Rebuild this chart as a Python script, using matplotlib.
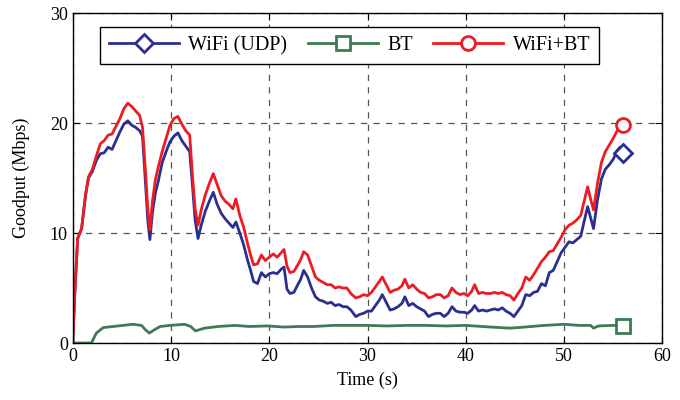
import matplotlib
matplotlib.use("Agg")
from matplotlib import pyplot as plt

# time axis shared by the WiFi and WiFi+BT traces (s)
t = [0, 0.2, 0.5, 0.9, 1.3, 1.6, 2.0, 2.4, 2.8, 3.2,
     3.6, 4.0, 4.4, 4.8, 5.2, 5.6, 6.0, 6.4, 6.8, 7.1,
     7.4, 7.65, 7.85, 8.1, 8.4, 8.7, 9.1, 9.5, 9.9, 10.3,
     10.7, 11.1, 11.5, 11.9, 12.2, 12.45, 12.75, 13.1, 13.5, 13.9,
     14.3, 14.7, 15.1, 15.5, 15.9, 16.3, 16.6, 17.0, 17.4, 17.8,
     18.1, 18.4, 18.8, 19.2, 19.6, 20.0, 20.4, 20.8, 21.2, 21.5,
     21.8, 22.1, 22.5, 22.9, 23.2, 23.5, 23.9, 24.3, 24.7, 25.1,
     25.5, 25.9, 26.3, 26.7, 27.1, 27.5, 27.9, 28.3, 28.8, 29.2,
     29.6, 30.0, 30.4, 30.8, 31.2, 31.5, 31.9, 32.3, 32.7, 33.1,
     33.5, 33.8, 34.2, 34.6, 35.0, 35.4, 35.8, 36.2, 36.6, 37.0,
     37.4, 37.8, 38.2, 38.6, 39.0, 39.4, 39.8, 40.2, 40.6, 40.9,
     41.3, 41.7, 42.1, 42.5, 42.9, 43.3, 43.7, 44.1, 44.5, 44.9,
     45.3, 45.7, 46.1, 46.5, 46.9, 47.3, 47.7, 48.1, 48.5, 48.9,
     49.3, 49.7, 50.1, 50.5, 50.9, 51.3, 51.7, 52.0, 52.4, 52.7,
     53.0, 53.4, 53.8, 54.2, 54.6, 55.0, 55.4, 55.7, 56.0]

wifi = [0, 4.4, 9.5, 10.4, 13.4, 15.0, 15.6, 16.6, 17.2, 17.3,
        17.8, 17.6, 18.4, 19.2, 19.9, 20.2, 19.8, 19.6, 19.3, 18.8,
        14.6, 11.0, 9.4, 11.8, 13.6, 14.7, 16.4, 17.4, 18.3, 18.8,
        19.1, 18.4, 17.9, 17.4, 14.1, 11.2, 9.5, 10.8, 12.0, 12.9,
        13.7, 12.6, 11.8, 11.3, 10.9, 10.5, 11.0, 10.0, 8.9, 7.5,
        6.6, 5.6, 5.4, 6.4, 6.0, 6.3, 6.4, 6.3, 6.7, 6.9,
        4.9, 4.5, 4.6, 5.3, 5.8, 6.6, 6.0, 5.0, 4.2, 3.9,
        3.8, 3.6, 3.7, 3.4, 3.5, 3.3, 3.3, 3.0, 2.4, 2.6,
        2.7, 2.9, 2.9, 3.4, 3.9, 4.4, 3.7, 3.0, 3.1, 3.3,
        3.6, 4.2, 3.4, 3.6, 3.3, 3.1, 2.9, 2.4, 2.6, 2.7,
        2.7, 2.4, 2.7, 3.3, 2.9, 2.8, 2.8, 2.7, 3.0, 3.4,
        2.9, 3.0, 2.9, 3.0, 3.1, 3.0, 3.2, 2.9, 2.7, 2.4,
        2.9, 3.4, 4.4, 4.3, 4.6, 4.7, 5.4, 5.2, 6.4, 6.6,
        7.4, 8.2, 8.7, 9.2, 9.1, 9.4, 9.7, 10.9, 12.4, 11.4,
        10.4, 13.0, 14.9, 15.8, 16.2, 16.7, 17.5, 17.8, 17.3]

combo = [0, 4.4, 9.5, 10.4, 13.5, 15.1, 15.8, 17.0, 18.1, 18.4,
         18.9, 19.0, 19.7, 20.4, 21.3, 21.8, 21.5, 21.1, 20.7, 19.6,
         15.6, 12.0, 10.3, 12.8, 14.8, 16.0, 17.4, 18.6, 19.8, 20.4,
         20.6, 19.9, 19.3, 18.9, 15.0, 12.2, 10.7, 12.2, 13.5, 14.5,
         15.4, 14.4, 13.4, 12.9, 12.6, 12.2, 13.1, 11.6, 10.5, 9.0,
         8.0, 7.1, 7.2, 8.0, 7.5, 7.8, 8.1, 7.8, 8.2, 8.5,
         7.0, 6.4, 6.5, 7.1, 7.6, 8.3, 8.0, 7.0, 6.0, 5.7,
         5.5, 5.3, 5.3, 5.0, 5.1, 5.0, 5.0, 4.5, 4.1, 4.2,
         4.4, 4.3, 4.6, 5.1, 5.6, 6.0, 5.3, 4.6, 4.8, 4.9,
         5.2, 5.8, 5.0, 5.3, 4.9, 4.6, 4.5, 4.1, 4.2, 4.4,
         4.4, 4.1, 4.3, 5.0, 4.6, 4.4, 4.5, 4.3, 4.7, 5.3,
         4.5, 4.6, 4.5, 4.5, 4.6, 4.5, 4.6, 4.4, 4.3, 3.9,
         4.5, 5.0, 6.0, 5.7, 6.2, 6.8, 7.4, 7.8, 8.3, 8.4,
         9.0, 9.6, 10.3, 10.7, 10.9, 11.2, 11.6, 12.7, 14.2, 13.1,
         12.1, 14.5, 16.4, 17.4, 18.0, 18.6, 19.3, 19.6, 19.8]

t_bt = [0, 1.9, 2.4, 3.1, 4.1, 5.1, 6.1, 7.0, 7.4, 7.8,
        8.3, 8.9, 9.9, 11.4, 12.0, 12.5, 13.4, 14.8, 16.5, 18.0,
        19.8, 21.5, 23.0, 24.5, 26.5, 28.0, 30.0, 32.0, 34.0, 36.0,
        38.0, 40.0, 42.5, 44.5, 46.0, 48.0, 50.0, 51.5, 52.7, 53.0,
        53.5, 55.0, 56.0]
bt = [0, 0, 0.9, 1.4, 1.5, 1.6, 1.7, 1.6, 1.2, 0.9,
      1.2, 1.5, 1.6, 1.7, 1.5, 1.1, 1.35, 1.5, 1.6, 1.5,
      1.55, 1.45, 1.5, 1.5, 1.6, 1.6, 1.6, 1.55, 1.6, 1.6,
      1.55, 1.6, 1.45, 1.35, 1.45, 1.6, 1.7, 1.6, 1.6, 1.35,
      1.55, 1.6, 1.55]

plt.rcParams['font.family'] = ['Liberation Serif', 'DejaVu Serif']
plt.rcParams['font.size'] = 13

fig = plt.figure(figsize=(6.8, 4.0), dpi=100)
ax = fig.add_axes([0.107, 0.1425, 0.867, 0.825])

ax.plot(t, wifi, color='#2b2f8f', lw=2.0, marker='D', ms=9, mew=2,
        mfc='white', markevery=[len(t) - 1], label='WiFi (UDP)')
ax.plot(t_bt, bt, color='#3e7a55', lw=2.0, marker='s', ms=10, mew=2,
        mfc='white', markevery=[len(t_bt) - 1], label='BT')
ax.plot(t, combo, color='#ed1c24', lw=2.0, marker='o', ms=10, mew=2,
        mfc='white', markevery=[len(t) - 1], label='WiFi+BT')

ax.set_xlim(0, 60)
ax.set_ylim(0, 30)
ax.set_xticks(range(0, 61, 10))
ax.set_yticks(range(0, 31, 10))
ax.tick_params(direction='in', top=True, right=True, length=5, labelsize=13)
ax.grid(True, color='#555555', ls=(0, (5, 5)), lw=0.9)
for s in ax.spines.values():
    s.set_linewidth(1.0)

ax.set_xlabel('Time (s)', fontsize=13, labelpad=5)
ax.set_ylabel('Goodput (Mbps)', fontsize=13, labelpad=14)

leg = ax.legend(loc='upper left', bbox_to_anchor=(0.046, 0.958),
                ncol=3, fontsize=14.5, handlelength=3.5,
                handletextpad=0.45, columnspacing=1.0, borderpad=0.45,
                fancybox=False, framealpha=1, borderaxespad=0,
                edgecolor='black')
leg.get_frame().set_linewidth(1.0)

fig.savefig('out.png', dpi=100)
